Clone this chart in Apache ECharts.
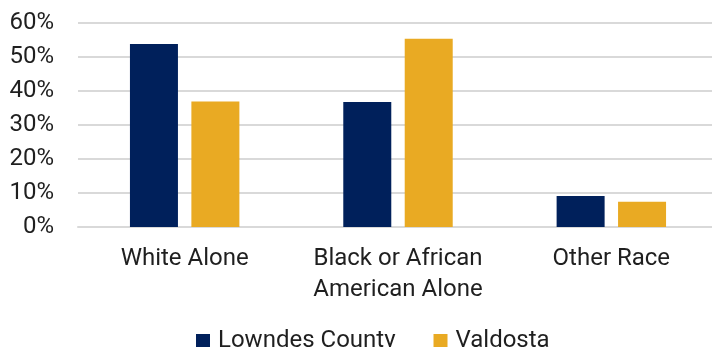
<!DOCTYPE html>
<html>
<head>
<meta charset="utf-8">
<script src="https://cdn.jsdelivr.net/npm/echarts@6/dist/echarts.min.js"></script>
<style>
  html, body { margin: 0; padding: 0; background: #fff; }
  #chart { width: 712px; height: 347px; }
</style>
</head>
<body>
<div id="chart"></div>
<script>
// Race composition shares
const categories = ['White Alone', 'Black or African\nAmerican Alone', 'Other Race'];
const lowndesCounty = [0.538, 0.368, 0.091];
const valdosta = [0.369, 0.554, 0.074];
const seriesNames = ['Lowndes County', 'Valdosta'];

const textColor = '#1f1f1f';
const fontFamily = 'Roboto, "Liberation Sans", sans-serif';

const chart = echarts.init(document.getElementById('chart'));
chart.setOption({
  animation: false,
  textStyle: { fontFamily: fontFamily },
  grid: { left: 78, top: 23, width: 640, height: 204, outerBoundsMode: 'none', containLabel: false },
  legend: {
    data: seriesNames,
    top: 324,
    left: 191,
    itemWidth: 14,
    itemHeight: 14,
    itemGap: 38,
    icon: 'rect',
    textStyle: { fontSize: 24, color: textColor, fontFamily: fontFamily, padding: [0, 0, 0, 3] }
  },
  xAxis: {
    type: 'category',
    data: categories,
    axisLine: { lineStyle: { color: '#d9d9d9', width: 2 } },
    axisTick: { show: false },
    axisLabel: {
      fontSize: 24,
      lineHeight: 31,
      color: textColor,
      margin: 16,
      interval: 0
    }
  },
  yAxis: {
    type: 'value',
    min: 0,
    max: 0.6,
    interval: 0.1,
    axisLine: { show: false },
    axisTick: { show: false },
    splitLine: { lineStyle: { color: '#d9d9d9', width: 2 } },
    axisLabel: {
      fontSize: 24,
      color: textColor,
      margin: 24,
      formatter: v => Math.round(v * 100) + '%'
    }
  },
  series: [
    {
      name: seriesNames[0],
      type: 'bar',
      data: lowndesCounty,
      barWidth: 48,
      barGap: '28%',
      itemStyle: { color: '#00205B' }
    },
    {
      name: seriesNames[1],
      type: 'bar',
      data: valdosta,
      barWidth: 48,
      itemStyle: { color: '#E9AA23' }
    }
  ]
});
</script>
</body>
</html>
